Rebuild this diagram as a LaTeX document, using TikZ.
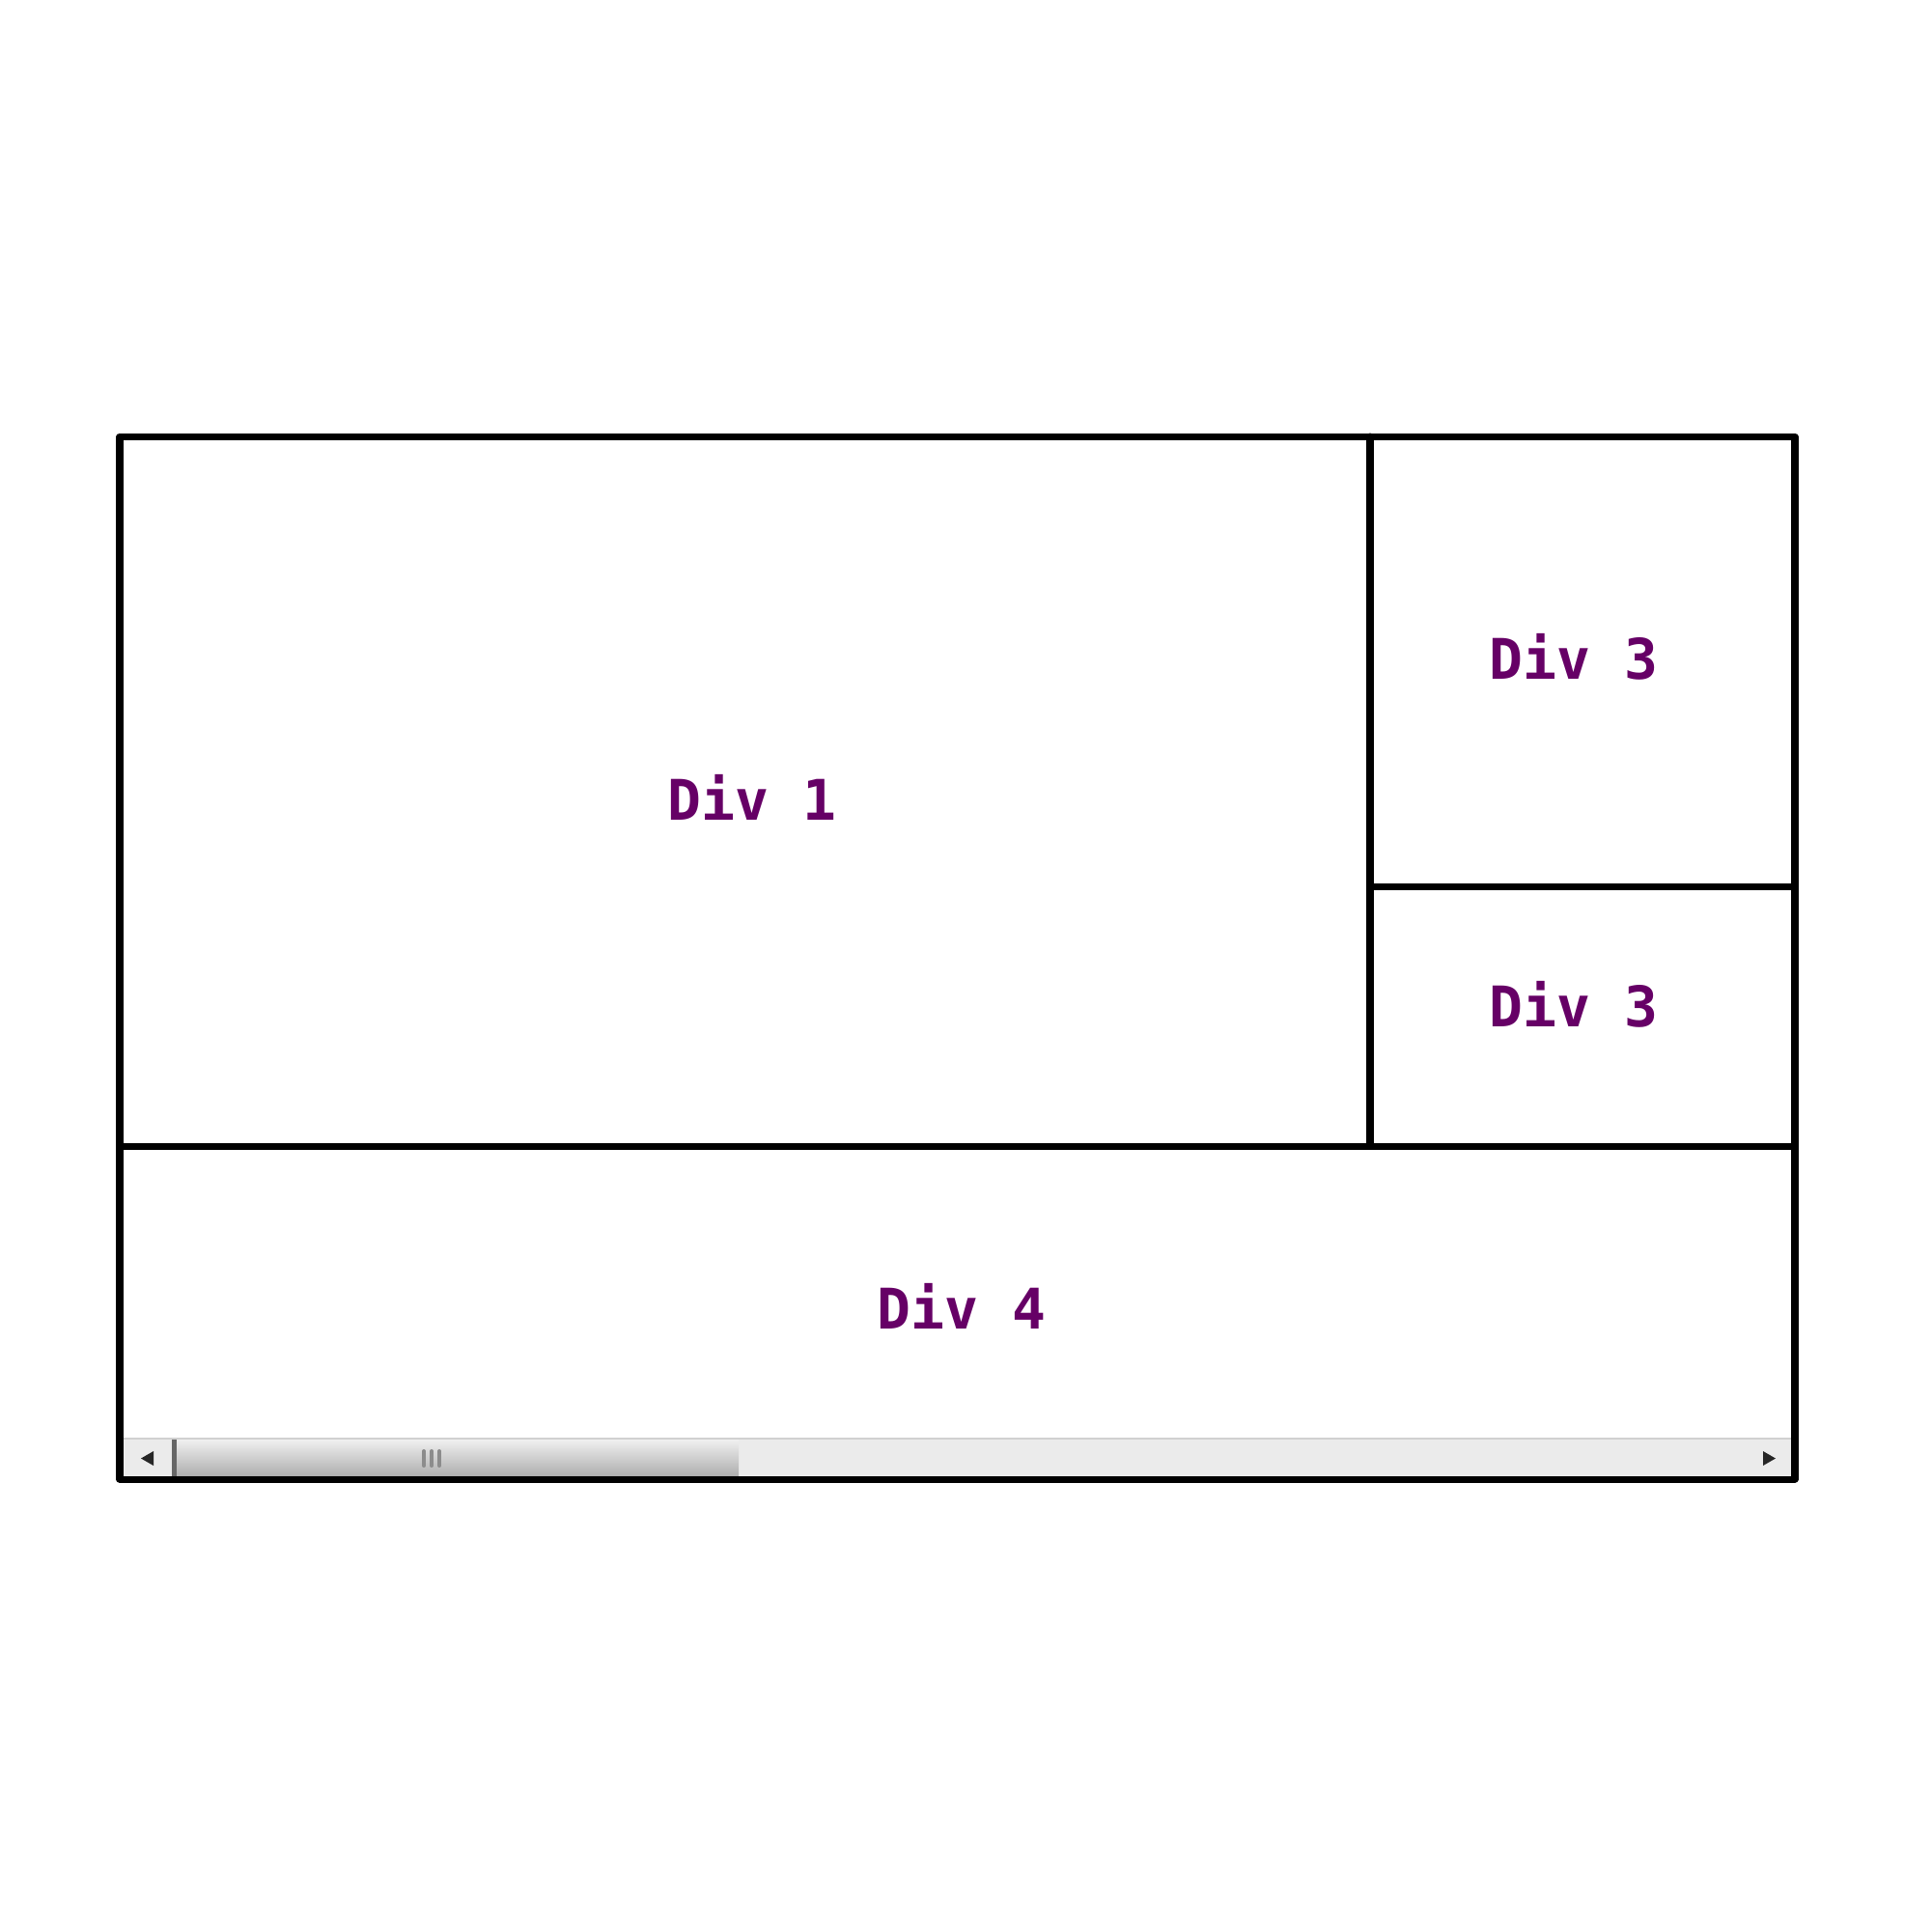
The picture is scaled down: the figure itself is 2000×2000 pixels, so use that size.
\documentclass[tikz,border=0pt]{standalone}
\usepackage{fontspec}
\newfontfamily\divfont{DejaVu Sans Mono}
\definecolor{divpurple}{HTML}{660066}
\definecolor{scrolltrack}{HTML}{EBEBEB}

\tikzset{
  frame/.style={line width=2pt, line join=round, line cap=round},
  divlabel/.style={text=divpurple, font=\divfont\bfseries\fontsize{16.5pt}{18pt}\selectfont},
  grip/.style={line width=0.4mm, line cap=round, color=black!45},
}

\begin{document}
\begin{tikzpicture}[x=0.1mm,y=-0.1mm]
\useasboundingbox (0,0) rectangle (2000,2000);
\coordinate (nw) at (124,452);
\coordinate (se) at (1859,1532);
\coordinate (splittop) at (1419,452);
\coordinate (splitbot) at (1419,1187);
\coordinate (rowleft) at (124,1187);
\coordinate (rowright) at (1859,1187);
\coordinate (threeleft) at (1419,918);
\coordinate (threeright) at (1859,918);

% scrollbar
\fill[scrolltrack] (128,1490) rectangle (1855,1529);
\draw[black!18, line width=0.2mm] (128,1490) -- (1855,1490);
\shade[top color=black!6, bottom color=black!32] (178,1491) rectangle (765,1529);
\fill[black!60] (178,1491) rectangle (183,1529);
\foreach \gx in {439,447,455}
  \draw[grip] (\gx,1503) -- (\gx,1518);
\fill[black!85] (159,1503) -- (159,1518) -- (146,1510.5) -- cycle;
\fill[black!85] (1826,1503) -- (1826,1518) -- (1839,1510.5) -- cycle;

% frame and divisions
\draw[frame] (nw) rectangle (se);
\draw[frame] (splittop) -- (splitbot);
\draw[frame] (rowleft) -- (rowright);
\draw[frame] (threeleft) -- (threeright);

\node[divlabel] (div1) at (779,826) {Div 1};
\node[divlabel] (div3a) at (1630,680) {Div 3};
\node[divlabel] (div3b) at (1630,1040) {Div 3};
\node[divlabel] (div4) at (996,1353) {Div 4};

\end{tikzpicture}
\end{document}
